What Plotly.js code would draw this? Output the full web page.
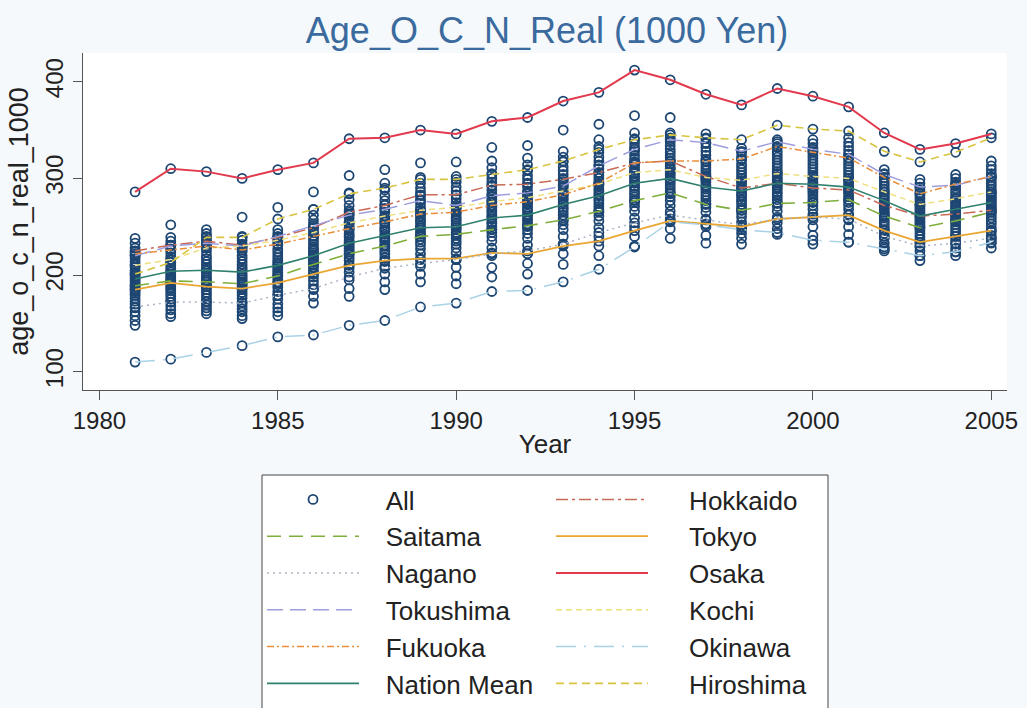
<!DOCTYPE html>
<html><head><meta charset="utf-8">
<script src="https://cdn.plot.ly/plotly-3.0.1.min.js"></script>
<style>html,body{margin:0;padding:0;background:#f5f9fb}</style>
</head><body><div id="chart" style="width:1027px;height:708px"></div>
<script>
const years = [1981,1982,1983,1984,1985,1986,1987,1988,1989,1990,1991,1992,1993,1994,1995,1996,1997,1998,1999,2000,2001,2002,2003,2004,2005];
const xTicks = [1980,1985,1990,1995,2000,2005];
const yTicks = [100,200,300,400];

const hokkaido  = [225,231,235,231,239,249,265,272,283,283,293,294,299,306,316,318,302,290,295,290,288,272,261,263,267];
const saitama   = [189,194,193,191,199,211,222,230,240,242,247,251,257,266,277,285,273,267,274,275,278,261,249,256,265];
const tokyo     = [185,192,188,186,192,201,210,215,217,217,223,222,230,235,246,256,253,250,258,260,262,246,234,240,246];
const nagano    = [167,172,172,171,179,186,198,207,212,216,222,225,232,244,254,262,257,252,258,260,258,240,230,233,238];
const osaka     = [286,310,307,300,309,316,341,342,350,346,359,363,380,389,412,402,387,376,393,385,374,347,330,336,346];
const tokushima = [220,230,233,230,240,251,262,268,277,272,282,285,292,313,330,340,337,328,338,330,325,304,291,293,302];
const kochi     = [210,216,228,230,236,244,254,261,267,270,276,280,287,294,306,309,301,298,305,302,300,286,273,279,286];
const fukuoka   = [222,226,230,226,232,240,248,255,263,265,272,276,283,295,316,318,318,320,333,327,321,301,284,294,302];
const okinawa   = [110,113,120,127,136,138,148,153,167,171,183,184,193,206,229,255,252,247,244,236,234,227,220,224,234];
const nationMean= [196,204,205,203,210,220,233,241,249,250,259,262,273,282,295,300,291,287,295,294,291,277,261,268,275];
const hiroshima = [201,213,239,239,258,268,284,290,299,299,304,309,318,330,340,345,342,340,355,351,349,328,317,327,342];

// remaining prefectures, one list per year (1981 ... 2005)
const otherPrefectures = [
 [238,233,228,224,220,217,214,211,208,205,203,201,199,197,195,193,191,189,187,185,183,181,179,176,173,170,166,162,158,153,148],
 [252,239,235,231,227,223,219,216,213,210,207,205,203,201,199,197,195,192,190,188,186,184,181,178,175,172,168,164,160,157],
 [247,243,240,236,232,228,224,220,217,214,211,208,206,204,202,199,197,195,193,190,188,185,182,179,176,173,169,166,163,160],
 [260,240,236,232,228,224,220,217,214,211,208,206,204,201,199,197,195,193,190,188,185,182,179,176,172,168,165,162,158,155],
 [270,247,243,239,235,231,227,224,221,218,215,213,211,209,207,205,203,201,199,196,193,190,187,183,179,175,170,166,162,158],
 [286,268,262,257,253,249,245,241,238,235,232,229,227,225,223,221,219,217,215,213,211,208,205,202,198,194,190,185,178,171],
 [303,285,278,272,267,263,259,255,252,249,246,243,241,239,236,234,232,230,228,226,224,221,218,215,211,207,203,195,186,178],
 [309,295,288,282,277,273,269,265,261,258,255,252,249,247,245,242,240,238,236,234,231,228,225,222,218,214,209,201,193,185],
 [316,301,295,290,286,282,278,274,270,267,264,261,258,256,254,251,249,247,244,242,240,237,234,231,227,222,216,209,201,193],
 [317,302,296,291,287,283,279,275,272,269,266,263,260,258,256,253,251,249,247,244,241,238,235,232,228,223,216,208,199,191],
 [332,318,311,305,300,296,292,288,284,281,278,275,272,270,267,265,262,260,258,255,253,250,247,244,240,235,228,220,208,198],
 [334,321,314,308,303,299,295,291,287,284,281,278,275,273,270,268,266,263,261,258,256,253,250,247,243,238,231,222,212,201],
 [350,328,322,317,312,308,304,300,297,294,291,288,285,283,280,278,275,273,270,268,265,262,259,256,252,247,240,232,222,211],
 [356,340,333,327,322,318,314,310,306,303,300,297,294,292,289,287,284,282,279,277,274,271,268,265,261,256,249,240,230,220],
 [365,347,341,336,332,328,324,320,317,314,311,308,305,302,300,297,295,292,290,287,284,281,278,275,271,266,259,250,240,230],
 [363,347,342,338,334,330,327,324,321,318,315,312,310,307,305,303,300,298,296,293,290,287,284,281,277,272,266,258,248,238],
 [346,341,336,332,328,324,320,317,314,311,308,305,303,300,298,296,293,291,289,286,283,280,277,274,270,265,258,250,241,233],
 [331,327,323,319,315,312,309,306,303,300,297,295,292,290,288,285,283,281,278,276,273,270,267,264,260,255,249,243,238,232],
 [340,336,332,328,325,322,319,316,313,310,307,305,302,300,298,296,293,291,289,286,284,281,278,275,271,266,260,254,248,242],
 [340,336,332,328,324,321,318,315,312,309,306,303,301,299,296,294,292,289,287,285,282,279,276,272,268,263,257,250,241,232],
 [342,337,333,329,325,321,318,315,312,309,306,303,300,298,296,293,291,289,286,284,281,278,275,272,268,263,257,250,242,234],
 [309,305,301,298,295,292,289,286,283,281,279,277,275,273,271,269,267,265,263,261,259,256,253,250,247,243,238,233,229,225],
 [299,295,291,288,285,282,279,276,273,271,269,267,265,263,261,259,257,255,253,251,249,246,243,240,237,233,229,225,220,215],
 [304,300,296,292,289,286,283,280,277,275,273,271,269,267,265,263,261,259,257,255,252,249,246,243,240,236,232,228,224,220],
 [318,313,309,305,301,298,295,292,289,286,284,282,280,278,276,274,272,270,268,265,262,259,256,253,249,245,241,237,233,228]
];

const seriesNames = ['Hokkaido','Saitama','Tokyo','Nagano','Osaka','Tokushima','Kochi','Fukuoka','Okinawa','Nation Mean','Hiroshima'];

// ---------- build traces ----------
const prefLists = [hokkaido,saitama,tokyo,nagano,osaka,tokushima,kochi,fukuoka,okinawa,hiroshima];
const allX = [], allY = [];
years.forEach((yr, i) => {
  prefLists.forEach(p => { allX.push(yr); allY.push(p[i]); });
  otherPrefectures[i].forEach(v => { allX.push(yr); allY.push(v); });
});

const FONT = '"Liberation Sans", Arial, Helvetica, sans-serif';
const L = 83, R = 1007, T = 53, B = 390;
const PW = R - L, PH = B - T;
const px2x = px => (px - L) / PW;
const py2y = py => (B - py) / PH;
const pad = (s, n) => '\u00a0'.repeat(n) + s;

const styles = {
  'Hokkaido':    {color:'#c86a55', dash:'12px,4px,3px,4px', width:1.5, legend:'legend2'},
  'Saitama':     {color:'#7fae3a', dash:'14px,8px', width:1.6, legend:'legend'},
  'Tokyo':       {color:'#eaa632', dash:'solid', width:1.8, legend:'legend2'},
  'Nagano':      {color:'#aab4c6', dash:'2px,4px', width:1.5, legend:'legend'},
  'Osaka':       {color:'#e2394d', dash:'solid', width:2, legend:'legend2'},
  'Tokushima':   {color:'#9e9ede', dash:'16px,7px', width:1.5, legend:'legend'},
  'Kochi':       {color:'#efe07e', dash:'6px,4px', width:1.5, legend:'legend2'},
  'Fukuoka':     {color:'#ea8e3a', dash:'7px,3px,2px,3px', width:1.5, legend:'legend'},
  'Okinawa':     {color:'#a9d2e6', dash:'20px,8px,2px,8px', width:1.5, legend:'legend2'},
  'Nation Mean': {color:'#2f806c', dash:'solid', width:1.6, legend:'legend'},
  'Hiroshima':   {color:'#d8c43e', dash:'8px,5px', width:1.6, legend:'legend2'}
};
const dataByName = {
  'Hokkaido':hokkaido,'Saitama':saitama,'Tokyo':tokyo,'Nagano':nagano,'Osaka':osaka,
  'Tokushima':tokushima,'Kochi':kochi,'Fukuoka':fukuoka,'Okinawa':okinawa,
  'Nation Mean':nationMean,'Hiroshima':hiroshima
};

const traces = [{
  type:'scatter', mode:'markers', name: pad('All',3), x: allX, y: allY,
  legend:'legend',
  marker:{symbol:'circle-open', size:9, color:'#1d4673', line:{width:1.8, color:'#1d4673'}},
  hoverinfo:'x+y'
}];
seriesNames.forEach(n => {
  const s = styles[n];
  traces.push({
    type:'scatter', mode:'lines', x: years, y: dataByName[n],
    name: s.legend === 'legend' ? pad(n,3) : pad(n,5),
    legend: s.legend,
    line:{color:s.color, dash:s.dash, width:s.width}
  });
});

const axisCommon = {
  showline:true, linecolor:'#555', linewidth:1,
  ticks:'outside', ticklen:9, tickcolor:'#555', tickwidth:1,
  showgrid:false, zeroline:false,
  tickfont:{family:FONT, size:24, color:'#222'}
};

const layout = {
  width:1027, height:708,
  paper_bgcolor:'#f5f9fb', plot_bgcolor:'#ffffff',
  margin:{l:L, r:1027-R, t:T, b:708-B, autoexpand:false},
  font:{family:FONT, color:'#222'},
  title:{text:'Age_O_C_N_Real (1000 Yen)', font:{family:FONT, size:36, color:'#3a6a9e'},
         x:547/1027, xref:'container', xanchor:'center', y:1-30/708, yref:'container', yanchor:'middle'},
  xaxis: Object.assign({}, axisCommon, {
    range:[1979.54, 2005.44], tickmode:'array', tickvals:xTicks,
    title:{text:'Year', font:{family:FONT, size:26, color:'#222'}, standoff:2}
  }),
  yaxis: Object.assign({}, axisCommon, {
    range:[81.1, 429.7], tickmode:'array', tickvals:yTicks, tickangle:-90,
    title:{text:'age_o_c_n_real_1000', font:{family:FONT, size:27, color:'#222'}, standoff:4}
  }),
  showlegend:true,
  legend:{x:px2x(262), y:py2y(476), xanchor:'left', yanchor:'top', orientation:'v',
          bgcolor:'rgba(0,0,0,0)', borderwidth:0, itemwidth:92, tracegroupgap:0,
          font:{family:FONT, size:26, color:'#222'}, itemclick:false},
  legend2:{x:px2x(551), y:py2y(476), xanchor:'left', yanchor:'top', orientation:'v',
          bgcolor:'rgba(0,0,0,0)', borderwidth:0, itemwidth:92, tracegroupgap:0,
          font:{family:FONT, size:26, color:'#222'}, itemclick:false},
  shapes:[{type:'rect', xref:'paper', yref:'paper', layer:'above',
           x0:px2x(262), x1:px2x(828), y0:py2y(475), y1:py2y(760),
           fillcolor:'#ffffff', line:{color:'#444', width:1}}]
};

Plotly.newPlot('chart', traces, layout, {displayModeBar:false, staticPlot:true});
</script></body></html>
